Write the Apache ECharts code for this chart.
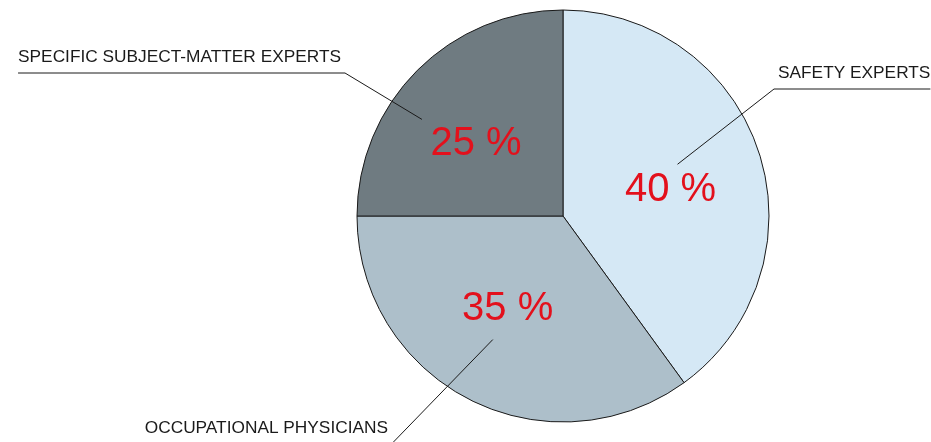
<!DOCTYPE html>
<html>
<head>
<meta charset="utf-8">
<script src="https://cdn.jsdelivr.net/npm/echarts@6/dist/echarts.min.js"></script>
<style>
  html, body { margin: 0; padding: 0; background: #ffffff; }
  #chart { width: 931px; height: 442px; }
</style>
</head>
<body>
<div id="chart"></div>
<script>
// ---- data ----
const categories = ['SAFETY EXPERTS', 'OCCUPATIONAL PHYSICIANS', 'SPECIFIC SUBJECT-MATTER EXPERTS'];
const shares = [40, 35, 25];

// ---- styles / layout ----
const sliceColors = ['#d5e8f5', '#adbfca', '#6f7b81'];
const FONT = "'Liberation Sans', Arial, Helvetica, sans-serif";
const CX = 563, CY = 216, R = 206;
// callout layout: leader-line start (polar around pie centre), elbow point, side where text sits
const callouts = [
  { startDeg: 24.3,   startFrac: 0.61, elbow: [774, 89],    side: 'right' },
  { startDeg: -119.6, startFrac: 0.69, elbow: [392, 443.5], side: 'left'  },
  { startDeg: 145.6,  startFrac: 0.83, elbow: [345, 73],    side: 'left'  }
];
// small nudges of the in-slice percentage labels
const pctNudge = [[0, 9], [-4, -8], [-7, 8]];

const chart = echarts.init(document.getElementById('chart'));

const transparent = 'rgba(0,0,0,0)';

chart.setOption({
  animation: false,
  backgroundColor: '#ffffff',
  series: [
    {
      type: 'pie',
      center: [CX, CY],
      radius: R,
      startAngle: 90,
      clockwise: true,
      silent: true,
      itemStyle: { borderColor: '#1a1a1a', borderWidth: 1 },
      label: { show: false },
      labelLine: { show: false },
      data: categories.map((name, i) => ({
        name: name, value: shares[i], itemStyle: { color: sliceColors[i] }
      }))
    },
    {
      type: 'pie',
      z: 3,
      center: [CX, CY],
      radius: 220,
      startAngle: 90,
      clockwise: true,
      silent: true,
      avoidLabelOverlap: false,
      itemStyle: { color: transparent, borderWidth: 0 },
      label: {
        show: true,
        position: 'inside',
        formatter: function (p) { return p.value + ' %'; },
        fontFamily: FONT,
        fontSize: 40,
        color: '#e3101c'
      },
      labelLayout: function (p) {
        return { dx: pctNudge[p.dataIndex][0], dy: pctNudge[p.dataIndex][1] };
      },
      labelLine: { show: false },
      emphasis: { disabled: true },
      data: categories.map((name, i) => ({ name: name, value: shares[i] }))
    },
    {
      type: 'pie',
      z: 4,
      center: [CX, CY],
      radius: R,
      startAngle: 90,
      clockwise: true,
      silent: true,
      avoidLabelOverlap: false,
      itemStyle: { color: transparent, borderWidth: 0 },
      emphasis: { disabled: true },
      label: {
        show: true,
        position: 'outside',
        formatter: '{b}',
        fontFamily: FONT,
        fontSize: 17.3,
        color: '#1a1a1a'
      },
      labelLine: {
        show: true,
        lineStyle: { color: '#1a1a1a', width: 1 }
      },
      labelLayout: function (p) {
        const c = callouts[p.dataIndex];
        const w = p.labelRect.width;
        const gap = 4;
        const a = c.startDeg * Math.PI / 180;
        const start = [CX + c.startFrac * R * Math.cos(a), CY - c.startFrac * R * Math.sin(a)];
        const ex = c.elbow[0], ey = c.elbow[1];
        const right = c.side === 'right';
        const near = right ? ex + gap : ex - gap;
        const far = right ? near + w : near - w;
        return {
          x: near,
          y: ey - 15.5,
          align: right ? 'left' : 'right',
          verticalAlign: 'middle',
          labelLinePoints: [start, [ex, ey], [far, ey]]
        };
      },
      data: categories.map((name, i) => ({ name: name, value: shares[i] }))
    }
  ]
});
</script>
</body>
</html>
